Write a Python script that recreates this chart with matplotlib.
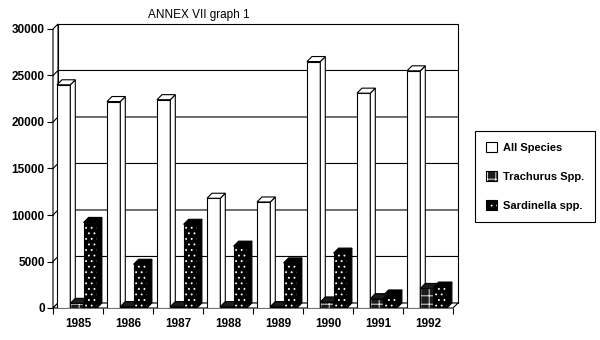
import matplotlib
matplotlib.use('Agg')
import matplotlib.pyplot as plt
from matplotlib.patches import Polygon, Patch
import numpy as np

plt.rcParams['font.family'] = ['Liberation Sans', 'DejaVu Sans']
plt.rcParams['hatch.linewidth'] = 0.6

# catch per year (tonnes)
years = ['1985', '1986', '1987', '1988', '1989', '1990', '1991', '1992']
series_names = ['All Species', 'Trachurus Spp.', 'Sardinella spp.']
all_species = [24000, 22200, 22400, 11800, 11400, 26500, 23100, 25500]
trachurus = [500, 150, 150, 150, 150, 650, 1000, 2100]
sardinella = [9200, 4700, 9000, 6650, 4850, 5900, 1400, 2250]
values = [all_species, trachurus, sardinella]

fills = ['white', '#1c1c1c', 'black']
hatches = [None, '++', '...']

n = len(years)
ymax = 30000
DX, DY = 0.1, 540      # depth offset of the 3D box
bw, off = 0.266, 0.08  # column width and offset inside a category
lw = 0.8

fig = plt.figure(figsize=(6, 3.4), dpi=100)
ax = fig.add_axes([53 / 600, 32 / 340, 400 / 600, 279 / 340])
ax.set_xlim(0, n)
ax.set_ylim(0, ymax)
for s in ax.spines.values():
    s.set_visible(False)

# walls and floor
back = Polygon([(DX, DY), (n + DX, DY), (n + DX, ymax + DY), (DX, ymax + DY)],
               fc='white', ec='black', lw=lw, zorder=0.5, clip_on=False)
side_wall = Polygon([(0, 0), (DX, DY), (DX, ymax + DY), (0, ymax)],
                    fc='white', ec='black', lw=lw, zorder=0.5, clip_on=False)
floor = Polygon([(0, 0), (n, 0), (n + DX, DY), (DX, DY)],
                fc='white', ec='black', lw=lw, zorder=0.5, clip_on=False)
for p in (back, side_wall, floor):
    ax.add_patch(p)
for v in range(5000, ymax, 5000):
    ax.plot([0, DX, n + DX], [v, v + DY, v + DY], color='black', lw=lw,
            zorder=0.6, clip_on=False)

# columns, drawn left to right so each front hides the previous side
for j, vals in enumerate(values):
    x = np.arange(n) + off + j * bw
    z = 2 + j
    hatch_col = 'white' if hatches[j] else 'black'
    ax.bar(x, vals, bw, align='edge', color=fills[j], edgecolor=hatch_col,
           hatch=hatches[j], lw=0, zorder=z)
    ax.bar(x, vals, bw, align='edge', fill=False, edgecolor='black',
           lw=lw, zorder=z)
    for xi, v in zip(x, vals):
        top = Polygon([(xi, v), (xi + bw, v), (xi + bw + DX, v + DY), (xi + DX, v + DY)],
                      fc=fills[j], ec='black', lw=lw, zorder=z)
        side = Polygon([(xi + bw, 0), (xi + bw + DX, DY), (xi + bw + DX, v + DY), (xi + bw, v)],
                       fc=fills[j], ec='black', lw=lw, zorder=z)
        ax.add_patch(side)
        ax.add_patch(top)

# axes ticks
ax.set_yticks(range(0, ymax + 1, 5000))
ax.tick_params(axis='y', direction='out', length=4, width=lw, pad=2, labelsize=8.5)
ax.set_xticks(np.arange(n + 1))
ax.set_xticklabels([])
ax.set_xticks(np.arange(n) + 0.5, labels=years, minor=True)
ax.tick_params(axis='x', which='major', direction='out', length=4, width=lw)
ax.tick_params(axis='x', which='minor', length=0, pad=7, labelsize=8.5)
for lab in ax.get_yticklabels() + ax.get_xticklabels(minor=True):
    lab.set_fontweight('bold')

fig.text(199 / 600, 1 - 15 / 340, 'ANNEX VII graph 1', ha='center', va='center', fontsize=8.5)

handles = []
for j in range(3):
    hatch_col = 'white' if hatches[j] else 'black'
    handles.append((Patch(fc=fills[j], ec=hatch_col, hatch=hatches[j], lw=0),
                    Patch(fill=False, ec='black', lw=lw)))
leg = fig.legend(handles, series_names, loc='upper left',
                 bbox_to_anchor=(475 / 600, 1 - 131 / 340),
                 prop={'size': 8, 'weight': 'bold'},
                 frameon=True, fancybox=False, framealpha=1, edgecolor='black',
                 handlelength=1.0, handleheight=1.0, labelspacing=1.65,
                 borderpad=1.0, handletextpad=0.5, borderaxespad=0)
leg.get_frame().set_linewidth(lw)

fig.savefig('out.png', dpi=100)
